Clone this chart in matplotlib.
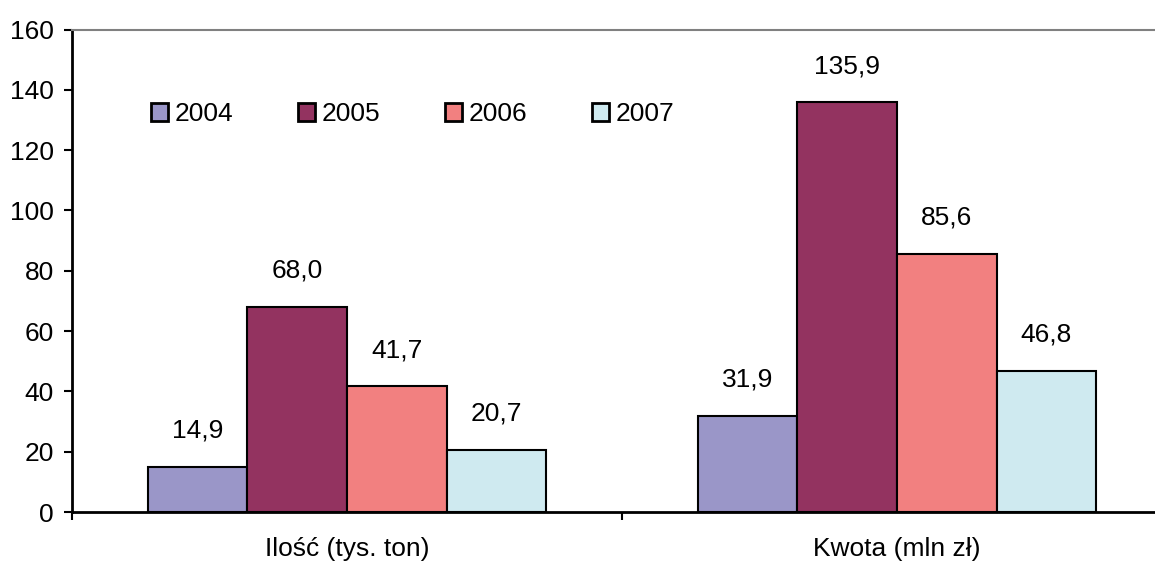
import matplotlib
matplotlib.use("Agg")
import matplotlib.pyplot as plt
from matplotlib.patches import Patch

categories = ["Ilość (tys. ton)", "Kwota (mln zł)"]
years = ["2004", "2005", "2006", "2007"]
values = {
    "2004": [14.9, 31.9],
    "2005": [68.0, 135.9],
    "2006": [41.7, 85.6],
    "2007": [20.7, 46.8],
}
colors = ["#9A96C8", "#933360", "#F28080", "#CFEAF0"]
yticks = [0, 20, 40, 60, 80, 100, 120, 140, 160]

plt.rcParams['font.family'] = ['Liberation Sans', 'DejaVu Sans']
FS = 19

fig = plt.figure(figsize=(11.55, 5.61), dpi=100)
ax = fig.add_axes([72/1155, 1-512/561, 1100/1155, (512-29.5)/561])

bw = 0.181
centers = [0.5, 1.5]
for i, y in enumerate(years):
    xs = [c + (i - 1.5) * bw for c in centers]
    ax.bar(xs, values[y], width=bw, color=colors[i], edgecolor="black", linewidth=1.5)
    for x, v in zip(xs, values[y]):
        ax.annotate(f"{v:.1f}".replace(".", ","), (x, v), xytext=(0, 26),
                    textcoords="offset points", ha="center", va="center", fontsize=FS)

ax.set_xlim(0, 2)
ax.set_ylim(0, 160)
ax.set_yticks(yticks)
ax.set_yticklabels([str(t) for t in yticks], fontsize=FS)
ax.set_xticks([0, 1, 2])
ax.set_xticklabels([])
ax.set_xticks(centers, minor=True)
ax.set_xticklabels(categories, minor=True, fontsize=FS)
ax.tick_params(axis="x", which="minor", length=0, pad=18)
ax.tick_params(axis="x", which="major", direction="out", length=6, width=1.5)
ax.tick_params(axis="y", direction="out", length=6, width=1.5, pad=7)

for s in ["left", "bottom"]:
    ax.spines[s].set_color("black")
    ax.spines[s].set_linewidth(2)
ax.spines["top"].set_color("#808080")
ax.spines["top"].set_linewidth(1.5)
ax.spines["right"].set_visible(False)

handles = [Patch(facecolor=c, edgecolor="black", linewidth=2) for c in colors]
fig.legend(handles, years, loc="center left", bbox_to_anchor=(151/1155, 1-114/561),
           ncol=4, frameon=False, fontsize=FS, handlelength=0.66, handleheight=0.66,
           handletextpad=0.22, columnspacing=2.47, borderpad=0, borderaxespad=0)

fig.savefig("out.png", dpi=100)
